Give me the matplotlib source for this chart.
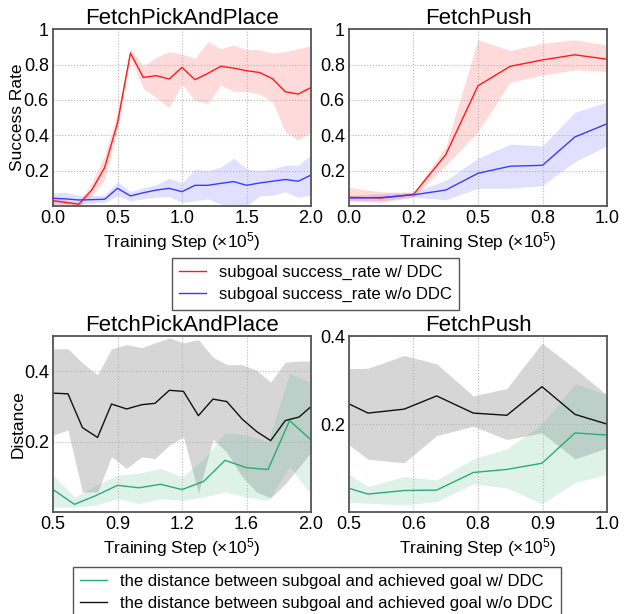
import numpy as np
import matplotlib
matplotlib.use("Agg")
import matplotlib.pyplot as plt
from matplotlib.ticker import FormatStrFormatter, FuncFormatter
from matplotlib.lines import Line2D

plt.rcParams['font.family'] = ['Liberation Sans', 'DejaVu Sans']
plt.rcParams['mathtext.fontset'] = 'custom'
plt.rcParams['mathtext.rm'] = 'Liberation Sans'
plt.rcParams['mathtext.it'] = 'Liberation Sans:italic'

# success rate, FetchPickAndPlace
x_pp = [0.0, 0.1, 0.2, 0.3, 0.4, 0.5, 0.6, 0.7, 0.8, 0.9, 1.0,
        1.1, 1.2, 1.3, 1.4, 1.5, 1.6, 1.7, 1.8, 1.9, 2.0]
pp_ddc = [0.03, 0.02, 0.01, 0.09, 0.217, 0.47, 0.865, 0.727, 0.737, 0.718, 0.784,
          0.714, 0.75, 0.79, 0.78, 0.765, 0.755, 0.72, 0.646, 0.633, 0.67]
pp_ddc_hi = [0.05, 0.035, 0.02, 0.13, 0.283, 0.53, 0.89, 0.79, 0.84, 0.873, 0.86,
             0.835, 0.93, 0.89, 0.91, 0.884, 0.884, 0.865, 0.873, 0.89, 0.906]
pp_ddc_lo = [0.01, 0.005, 0.0, 0.057, 0.15, 0.435, 0.84, 0.665, 0.614, 0.557, 0.69,
             0.595, 0.58, 0.684, 0.648, 0.648, 0.633, 0.59, 0.42, 0.372, 0.42]
pp_no = [0.044, 0.04, 0.034, 0.036, 0.038, 0.10, 0.057, 0.075, 0.09, 0.10, 0.081,
         0.117, 0.117, 0.128, 0.138, 0.117, 0.13, 0.14, 0.15, 0.14, 0.175]
pp_no_hi = [0.075, 0.077, 0.06, 0.06, 0.06, 0.138, 0.081, 0.104, 0.12, 0.157, 0.13,
            0.208, 0.2, 0.22, 0.27, 0.21, 0.2, 0.21, 0.23, 0.23, 0.29]
pp_no_lo = [0.01, 0.015, 0.01, 0.017, 0.02, 0.057, 0.03, 0.04, 0.05, 0.053, 0.02,
            0.03, 0.04, 0.01, 0.005, 0.0, 0.057, 0.06, 0.08, 0.05, 0.06]

# success rate, FetchPush
x_push = [0.0, 0.125, 0.25, 0.375, 0.5, 0.625, 0.75, 0.875, 1.0]
push_ddc = [0.049, 0.045, 0.066, 0.29, 0.68, 0.79, 0.826, 0.855, 0.83]
push_ddc_hi = [0.105, 0.08, 0.075, 0.335, 0.94, 0.88, 0.92, 0.94, 0.91]
push_ddc_lo = [0.03, 0.02, 0.05, 0.23, 0.42, 0.70, 0.74, 0.77, 0.76]
push_no = [0.045, 0.048, 0.063, 0.09, 0.185, 0.225, 0.23, 0.39, 0.465]
push_no_hi = [0.06, 0.07, 0.08, 0.145, 0.27, 0.35, 0.34, 0.53, 0.59]
push_no_lo = [0.03, 0.03, 0.05, 0.035, 0.10, 0.10, 0.115, 0.25, 0.34]

# distance, FetchPickAndPlace
xd_pp_no = [0.5, 0.587, 0.671, 0.759, 0.84, 0.928, 1.015, 1.093, 1.176, 1.258,
            1.345, 1.43, 1.51, 1.6, 1.683, 1.765, 1.85, 1.93, 2.0]
dpp_no = [0.338, 0.336, 0.24, 0.212, 0.307, 0.293, 0.305, 0.309, 0.346, 0.343,
          0.274, 0.321, 0.314, 0.264, 0.229, 0.203, 0.26, 0.27, 0.30]
dpp_no_hi = [0.464, 0.464, 0.424, 0.39, 0.464, 0.476, 0.467, 0.481, 0.495, 0.481,
             0.49, 0.44, 0.419, 0.419, 0.403, 0.369, 0.426, 0.429, 0.429]
dpp_no_lo = [0.219, 0.233, 0.057, 0.057, 0.157, 0.124, 0.157, 0.152, 0.19, 0.214,
             0.054, 0.207, 0.17, 0.1, 0.057, 0.04, 0.08, 0.128, 0.171]
xd_pp_ddc = [0.5, 0.625, 0.75, 0.875, 1.0, 1.125, 1.25, 1.375, 1.5, 1.625, 1.75, 1.875, 2.0]
dpp_ddc = [0.064, 0.022, 0.047, 0.076, 0.069, 0.079, 0.064, 0.087, 0.147, 0.126, 0.121, 0.26, 0.205]
dpp_ddc_hi = [0.105, 0.043, 0.076, 0.105, 0.111, 0.124, 0.10, 0.15, 0.226, 0.219, 0.20, 0.393, 0.369]
dpp_ddc_lo = [0.014, 0.014, 0.02, 0.038, 0.024, 0.038, 0.033, 0.043, 0.057, 0.043, 0.033, 0.129, 0.05]

# distance, FetchPush
xd_push = [0.5, 0.537, 0.607, 0.67, 0.741, 0.806, 0.874, 0.938, 1.0]
dpush_no = [0.246, 0.225, 0.234, 0.264, 0.225, 0.22, 0.285, 0.222, 0.2]
dpush_no_hi = [0.326, 0.327, 0.356, 0.337, 0.264, 0.281, 0.384, 0.326, 0.266]
dpush_no_lo = [0.153, 0.12, 0.112, 0.174, 0.195, 0.165, 0.18, 0.121, 0.146]
dpush_ddc = [0.054, 0.041, 0.049, 0.05, 0.09, 0.097, 0.111, 0.18, 0.175]
dpush_ddc_hi = [0.086, 0.058, 0.081, 0.073, 0.121, 0.144, 0.2, 0.292, 0.267]
dpush_ddc_lo = [0.022, 0.02, 0.016, 0.024, 0.064, 0.055, 0.019, 0.067, 0.086]

RED = '#ff1a1a'
BLUE = '#3a3aff'
GREEN = '#2aac78'
BLACK = '#111111'
XLABEL = 'Training Step (×10$^{5}$)'

fig = plt.figure(figsize=(6.31, 6.14), dpi=100)
ax1 = fig.add_axes([0.084, 0.6645, 0.409, 0.288])
ax2 = fig.add_axes([0.553, 0.6645, 0.409, 0.288])
ax3 = fig.add_axes([0.084, 0.166, 0.409, 0.2866])
ax4 = fig.add_axes([0.553, 0.166, 0.409, 0.2866])


def band(ax, x, y, lo, hi, color, alpha):
    ax.fill_between(x, lo, hi, color=color, alpha=alpha, linewidth=0)
    ax.plot(x, y, color=color, lw=1.0)


def style(ax, title, xlim, ylim, yticks):
    ax.set_title(title, fontsize=16, pad=3)
    ax.set_xlim(xlim)
    ax.set_ylim(ylim)
    ax.set_xticks(np.linspace(xlim[0], xlim[1], 5))
    ax.set_yticks(yticks)
    ax.xaxis.set_major_formatter(FormatStrFormatter('%.1f'))
    ax.yaxis.set_major_formatter(FuncFormatter(lambda v, p: '{:g}'.format(round(v, 2))))
    ax.tick_params(length=0, labelsize=13, pad=3)
    ax.grid(True, color='#b5b5b5', linestyle=':', lw=0.8)
    for s in ax.spines.values():
        s.set_color('#555555')
        s.set_linewidth(1.3)
    ax.set_xlabel(XLABEL, fontsize=12.5, labelpad=2)


band(ax1, x_pp, pp_ddc, pp_ddc_lo, pp_ddc_hi, RED, 0.16)
band(ax1, x_pp, pp_no, pp_no_lo, pp_no_hi, BLUE, 0.15)
style(ax1, 'FetchPickAndPlace', (0, 2), (0, 1), [0.2, 0.4, 0.6, 0.8, 1.0])
ax1.set_ylabel('Success Rate', fontsize=12.5, labelpad=-1)

band(ax2, x_push, push_ddc, push_ddc_lo, push_ddc_hi, RED, 0.16)
band(ax2, x_push, push_no, push_no_lo, push_no_hi, BLUE, 0.15)
style(ax2, 'FetchPush', (0, 1), (0, 1), [0.2, 0.4, 0.6, 0.8, 1.0])

band(ax3, xd_pp_no, dpp_no, dpp_no_lo, dpp_no_hi, BLACK, 0.17)
band(ax3, xd_pp_ddc, dpp_ddc, dpp_ddc_lo, dpp_ddc_hi, GREEN, 0.15)
style(ax3, 'FetchPickAndPlace', (0.5, 2.0), (0, 0.5), [0.2, 0.4])
ax3.set_ylabel('Distance', fontsize=12.5, labelpad=-1)

band(ax4, xd_push, dpush_no, dpush_no_lo, dpush_no_hi, BLACK, 0.17)
band(ax4, xd_push, dpush_ddc, dpush_ddc_lo, dpush_ddc_hi, GREEN, 0.15)
style(ax4, 'FetchPush', (0.5, 1.0), (0, 0.4), [0.2, 0.4])

leg_kw = dict(loc='center', fontsize=12, fancybox=False, framealpha=1,
              edgecolor='#555555', handlelength=1.6, borderpad=0.45, labelspacing=0.4)
h1 = [Line2D([], [], color=RED, lw=1.0), Line2D([], [], color=BLUE, lw=1.0)]
l1 = fig.legend(h1, ['subgoal success_rate w/ DDC', 'subgoal success_rate w/o DDC'],
                bbox_to_anchor=(0.5, 0.538), **leg_kw)
l1.get_frame().set_linewidth(1.0)
h2 = [Line2D([], [], color=GREEN, lw=1.0), Line2D([], [], color=BLACK, lw=1.0)]
l2 = fig.legend(h2, ['the distance between subgoal and achieved goal w/ DDC',
                     'the distance between subgoal and achieved goal w/o DDC'],
                bbox_to_anchor=(0.502, 0.035), **leg_kw)
l2.get_frame().set_linewidth(1.0)

fig.savefig('out.png', dpi=100)
